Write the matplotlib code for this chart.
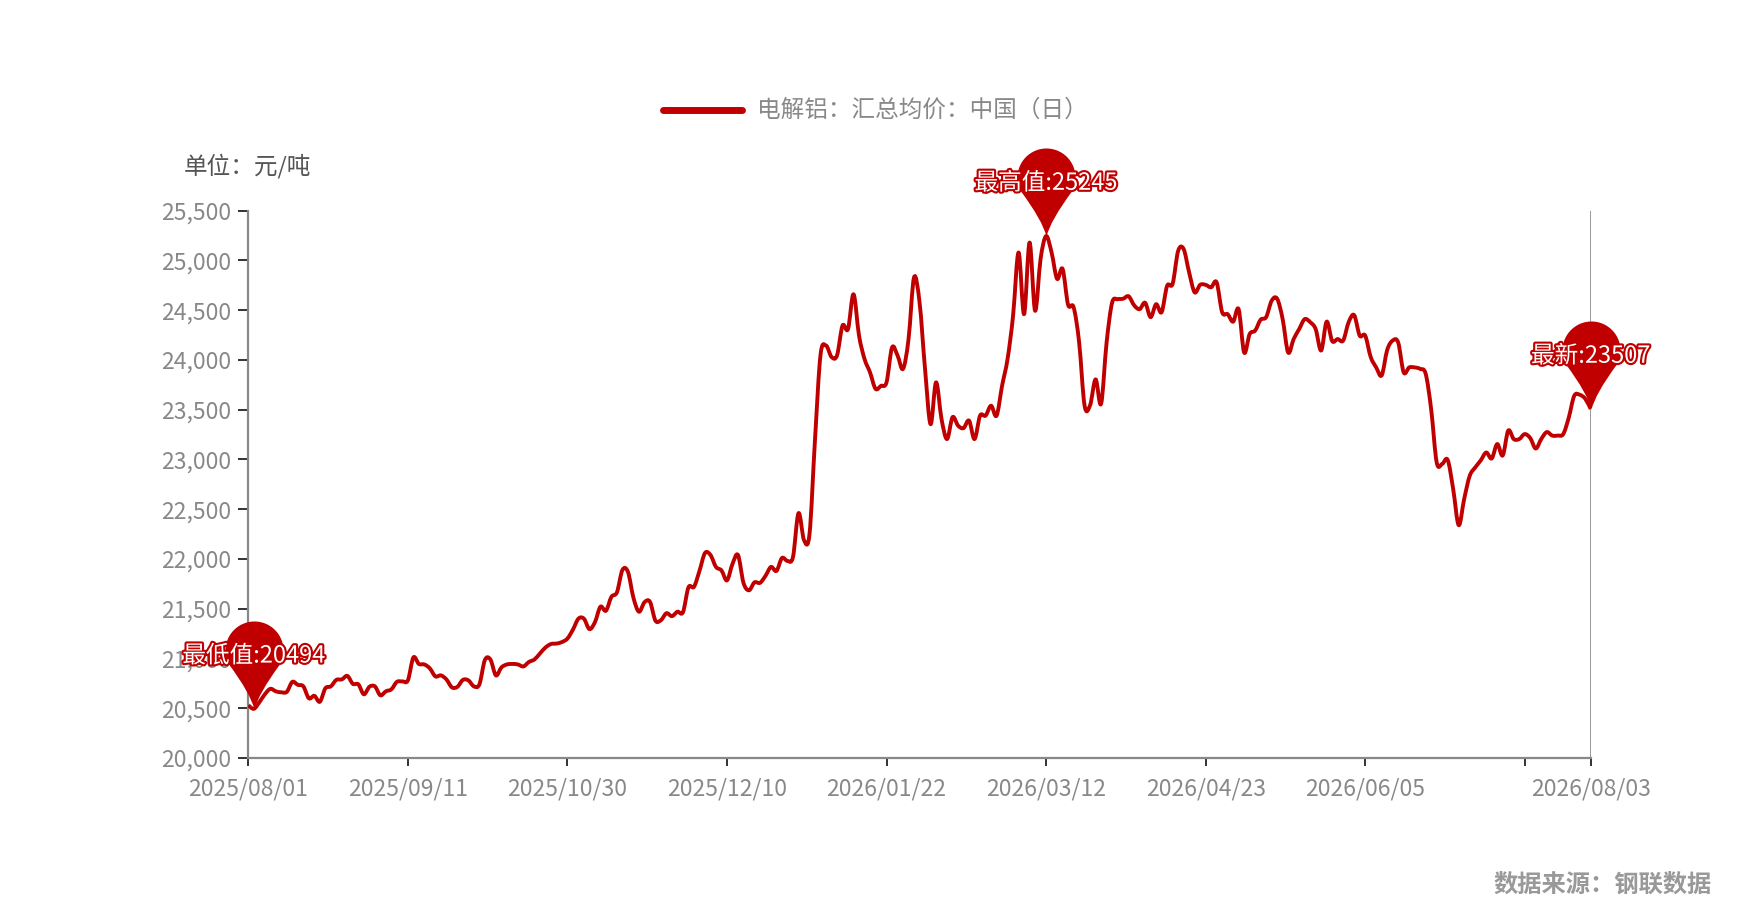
# Import libraries

import numpy as np
import matplotlib
matplotlib.use('Agg')
import matplotlib.pyplot as plt
import matplotlib.patheffects as pe
from matplotlib.path import Path
from matplotlib.patches import PathPatch

plt.rcParams['font.family'] = ['Noto Sans CJK SC', 'DejaVu Sans']

# Step 1: Data (daily price, yuan/ton)

series_name = '电解铝：汇总均价：中国（日）'

prices = [
    20530, 20494, 20560, 20640, 20695, 20670, 20660, 20665, 20765, 20735,
    20720, 20600, 20625, 20565, 20700, 20720, 20785, 20790, 20825, 20745,
    20740, 20640, 20715, 20720, 20630, 20670, 20690, 20765, 20770, 20780,
    21010, 20945, 20940, 20900, 20820, 20830, 20790, 20710, 20715, 20785,
    20780, 20720, 20740, 20985, 20990, 20830, 20910, 20940, 20945, 20940,
    20920, 20965, 20990, 21050, 21110, 21145, 21150, 21165, 21200, 21290,
    21400, 21400, 21295, 21365, 21520, 21480, 21620, 21665, 21890, 21870,
    21610, 21470, 21565, 21570, 21380, 21385, 21455, 21425, 21470, 21465,
    21715, 21720, 21880, 22060, 22040, 21920, 21885, 21785, 21950, 22040,
    21760, 21685, 21765, 21760, 21830, 21920, 21880, 22010, 21980, 22020,
    22460, 22190, 22250, 23200, 24050, 24145, 24030, 24045, 24345, 24310,
    24660, 24245, 24010, 23875, 23710, 23740, 23775, 24125, 24045, 23910,
    24210, 24830, 24580, 23910, 23355, 23775, 23405, 23205, 23425, 23340,
    23315, 23390, 23205, 23440, 23440, 23540, 23440, 23740, 24010, 24445,
    25080, 24460, 25180, 24495, 25015, 25245, 25080, 24815, 24915, 24555,
    24530, 24180, 23540, 23545, 23805, 23560, 24175, 24575, 24610, 24615,
    24640, 24550, 24510, 24575, 24430, 24560, 24480, 24745, 24765, 25095,
    25115, 24880, 24680, 24755, 24755, 24730, 24780, 24480, 24460, 24385,
    24510, 24075, 24260, 24295, 24405, 24430, 24595, 24615, 24410, 24075,
    24210, 24310, 24410, 24380, 24310, 24095, 24385, 24190, 24210, 24195,
    24380, 24450, 24245, 24245, 24030, 23925, 23845, 24100, 24195, 24175,
    23875, 23925, 23925, 23910, 23860, 23500, 22970, 22955, 22995, 22700,
    22340, 22605, 22835, 22920, 22990, 23070, 23010, 23155, 23040, 23290,
    23205, 23205, 23255, 23215, 23110, 23205, 23275, 23240, 23240, 23255,
    23420, 23640, 23650, 23610, 23507,
]

date_labels = ['2025/08/01', '2025/09/11', '2025/10/30', '2025/12/10',
               '2026/01/22', '2026/03/12', '2026/04/23', '2026/06/05', '',
               '2026/08/03']

y_ticks = [20000, 20500, 21000, 21500, 22000, 22500, 23000, 23500,
           24000, 24500, 25000, 25500]

red = '#c00000'
grey = '#888888'

x = np.arange(len(prices))
y = np.array(prices)

# Step 2: Figure and axes

fig = plt.figure(figsize=(17.5, 9.18), dpi=100)
ax = fig.add_axes([0.1419, 0.1743, 0.9090 - 0.1419, 0.7705 - 0.1743])

# smooth line drawn as bezier curves through the data points
def smooth_path(xs, ys, k=0.5):
    pts = np.column_stack([xs, ys]).astype(float)
    n = len(pts)
    verts = [pts[0]]
    codes = [Path.MOVETO]
    for i in range(n - 1):
        p0 = pts[max(i - 1, 0)]
        p1 = pts[i]
        p2 = pts[i + 1]
        p3 = pts[min(i + 2, n - 1)]
        c1 = p1 + (p2 - p0) * k / 3
        c2 = p2 - (p3 - p1) * k / 3
        verts += [c1, c2, p2]
        codes += [Path.CURVE4] * 3
    return Path(verts, codes)

ax.add_patch(PathPatch(smooth_path(x, y), facecolor='none', edgecolor=red,
                       linewidth=2.8, joinstyle='round', zorder=3))

ax.set_xlim(0, len(prices) - 1)
ax.set_ylim(y_ticks[0], y_ticks[-1])

# vertical line at latest point
ax.axvline(x[-1], color=grey, linewidth=1.2, zorder=2)

# Step 3: Axes styling

for side in ['top', 'right']:
    ax.spines[side].set_visible(False)
for side in ['left', 'bottom']:
    ax.spines[side].set_color(grey)
    ax.spines[side].set_linewidth(1.6)

ax.set_yticks(y_ticks)
ax.set_yticklabels([f'{v:,}' for v in y_ticks])

tick_idx = list(range(0, len(prices), 29)) + [len(prices) - 1]
ax.set_xticks(tick_idx)
ax.set_xticklabels(date_labels)

ax.tick_params(axis='y', direction='out', length=7, width=1.4,
               color='#333333', labelcolor=grey, labelsize=16.5, pad=5)
ax.tick_params(axis='x', direction='out', length=6, width=1.4,
               color='#333333', labelcolor=grey, labelsize=16.5, pad=8)

# Step 4: Pin markers for min / max / latest

def pin_marker():
    r, c = 29.0, 59.0
    a = np.degrees(np.arcsin(r / c))
    ang = np.radians(np.linspace(-a, 180 + a, 50))
    arc = np.column_stack([r * np.cos(ang), c + r * np.sin(ang)])
    right = arc[0]
    verts = list(arc) + [(-4, 16), (0, 0), (4, 16), tuple(right), (0, 0)]
    codes = ([Path.MOVETO] + [Path.LINETO] * (len(arc) - 1)
             + [Path.CURVE3, Path.CURVE3, Path.CURVE3, Path.CURVE3,
                Path.CLOSEPOLY])
    return Path(verts, codes)

pin = pin_marker()
pin_size = 2 * 88 * 72 / 100

i_min = int(np.argmin(y))
i_max = int(np.argmax(y))
i_last = len(prices) - 1

pins = [
    (i_min, f'最低值:{y[i_min]}'),
    (i_max, f'最高值:{y[i_max]}'),
    (i_last, f'最新:{y[i_last]}'),
]

for i, label in pins:
    ax.plot(x[i], y[i], marker=pin, markersize=pin_size, color=red,
            markeredgewidth=0, linestyle='none', clip_on=False, zorder=5)
    ax.annotate(label, (x[i], y[i]), xytext=(0, 38),
                textcoords='offset points', ha='center', va='center',
                fontsize=17, color='white', zorder=6, annotation_clip=False,
                path_effects=[pe.withStroke(linewidth=3, foreground=red)])

# Step 5: Legend, unit, source

fig.add_artist(plt.Line2D([663 / 1750, 742 / 1750], [1 - 110 / 918, 1 - 110 / 918],
                          color=red, linewidth=5, solid_capstyle='round'))
fig.text(757 / 1750, 1 - 110 / 918, series_name, fontsize=17, color=grey,
         ha='left', va='center')

fig.text(184 / 1750, 1 - 166 / 918, '单位：元/吨', fontsize=17,
         color='#555555', ha='left', va='center')

fig.text(1712 / 1750, 1 - 886 / 918, '数据来源：钢联数据', fontsize=17.5,
         color='#999999', ha='right', va='center', fontweight='bold')

plt.savefig('out.png', dpi=100)
